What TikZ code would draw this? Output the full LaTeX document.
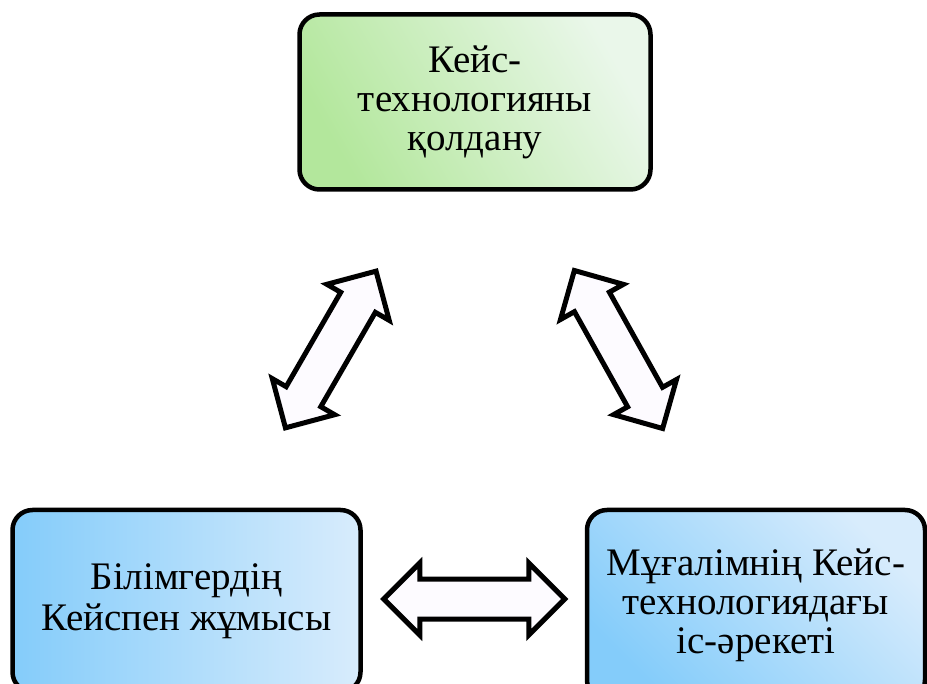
\documentclass[tikz,border=0pt]{standalone}
\usepackage{fontspec}
\setmainfont{Liberation Serif}
\usetikzlibrary{shapes.arrows,calc}
\definecolor{greenA}{HTML}{B3E79C}
\definecolor{greenB}{HTML}{EAF7EA}
\definecolor{blueA}{HTML}{84CCFA}
\definecolor{blueB}{HTML}{D8ECFC}
\definecolor{arrowfill}{HTML}{FDFBFF}
\begin{document}
\begin{tikzpicture}[x=1pt,y=-1pt,
  box/.style={draw=black, line width=4.5pt, rounded corners=20pt, align=center,
    inner sep=0pt, font=\fontsize{39}{39}\selectfont},
  dblarrow/.style={shape=double arrow, draw=black, line width=5pt, fill=arrowfill,
    minimum height=181pt, minimum width=0pt, double arrow head extend=16pt,
    inner xsep=0pt, inner ysep=17.5pt, double arrow tip angle=90}]
\useasboundingbox (0,0) rectangle (927,684);
\node[box, minimum width=351pt, minimum height=175pt,
  bottom color=greenA, top color=greenB, shading angle=-60]
  (top) at (475,102) {Кейс-\\технологияны\\қолдану};
\node[box, minimum width=348pt, minimum height=182pt, left color=blueA, right color=blueB,
  font=\fontsize{39}{41}\selectfont]
  (left) at (186.5,601) {Білімгердің\\Кейспен жұмысы};
\node[box, minimum width=338pt, minimum height=190pt,
  bottom color=blueA, top color=blueB, shading angle=-45]
  (right) at (756,605) {Мұғалімнің Кейс-\\технологиядағы\\іс-әрекеті};
\path let \p1=($(top.center)-(left.center)$), \n1={atan2(\y1,\x1)} in
  node[dblarrow, rotate=\n1] (a1) at ($(left.center)!0.5!(top.center)+(0,-2)$) {};
\path let \p1=($(top.center)-(right.center)$), \n1={atan2(\y1,\x1)} in
  node[dblarrow, rotate=\n1] (a2) at ($(right.center)!0.5!(top.center)+(3,-4)$) {};
\node[dblarrow] (a3) at ($(left.center)!0.5!(right.center)+(3,-4)$) {};
\end{tikzpicture}
\end{document}
